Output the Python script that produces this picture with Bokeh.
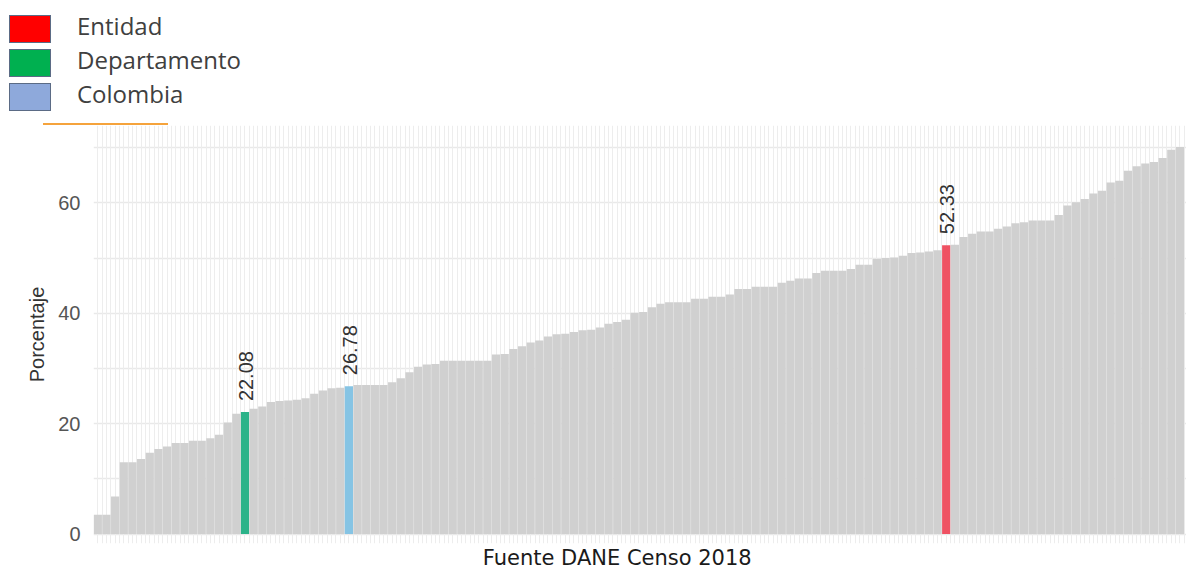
import math
from bokeh.plotting import figure
from bokeh.models import (Range1d, FixedTicker, ColumnDataSource, Grid, Div,
                          LinearAxis)
from bokeh.layouts import column
from bokeh.core.properties import value
from bokeh.embed import file_html
from bokeh.resources import INLINE

# ---------------- data ----------------
valores = [
    3.5, 3.5, 6.8, 13.0, 13.0, 13.6, 14.7, 15.4, 15.85, 16.5,
    16.5, 16.9, 16.9, 17.35, 18.0, 20.2, 21.8, 22.08, 22.7, 23.1,
    23.9, 24.1, 24.2, 24.3, 24.6, 25.4, 26.0, 26.4, 26.5, 26.78,
    27.0, 27.0, 27.0, 27.0, 27.5, 28.2, 29.3, 30.3, 30.7, 30.8,
    31.4, 31.4, 31.4, 31.4, 31.4, 31.4, 32.5, 32.6, 33.5, 34.0,
    34.7, 35.05, 35.8, 36.2, 36.3, 36.6, 36.9, 37.0, 37.4, 38.1,
    38.4, 38.8, 40.1, 40.2, 41.1, 41.7, 42.0, 42.0, 42.0, 42.6,
    42.6, 43.0, 43.0, 43.4, 44.4, 44.4, 44.8, 44.8, 44.8, 45.5,
    45.9, 46.3, 46.3, 47.3, 47.7, 47.7, 47.7, 48.0, 48.8, 48.8,
    49.8, 50.0, 50.1, 50.4, 50.9, 51.0, 51.2, 51.4, 52.33, 52.4,
    53.8, 54.4, 54.8, 54.8, 55.3, 55.7, 56.3, 56.5, 56.8, 56.8,
    56.8, 57.8, 59.5, 60.1, 60.7, 61.7, 62.2, 63.7, 64.0, 65.8,
    66.6, 67.1, 67.4, 68.1, 69.6, 70.1,
]
posiciones = list(range(1, len(valores) + 1))

# highlighted bars (position in ranking)
resaltado_pos = [99, 18, 30]
resaltado_color = ["#EF5263", "#2BB389", "#86C4E4"]

leyenda_etiquetas = ["Entidad", "Departamento", "Colombia"]
leyenda_colores = ["#FF0000", "#00B050", "#8EA9DB"]

color_base = "#D0D0D0"
ticks_y = [0, 20, 40, 60]
grid_y = [0, 10, 20, 30, 40, 50, 60, 70]
fuente = "Fuente DANE Censo 2018"
fuente_pos = 61          # x position (in bar units) where the source note is centred
titulo_y = "Porcentaje"

# ---------------- sizes ----------------
W = 1186
HEAD_H = 125
FRAME_H = 418
BOTTOM = 572 - HEAD_H - FRAME_H
LEFT = 93
P = 8.657            # px per bar
PX_Y = 5.52          # px per percentage point
frame_w = W - LEFT
x_start = 0.5
x_end = x_start + frame_w / P

# ---------------- header: legend ----------------
rows = []
for i, (etq, c) in enumerate(zip(leyenda_etiquetas, leyenda_colores)):
    t = 15 + i * 34
    rows.append(
        f'<div style="position:absolute;left:9px;top:{t}px;width:42px;height:28px;'
        f'background:{c};border:1px solid #5B6B85;box-sizing:border-box;"></div>'
        f'<div style="position:absolute;left:77px;top:{t - 5}px;height:32px;line-height:32px;'
        f'font-family:\'Open Sans\';font-size:24px;color:#404040;white-space:nowrap;">{etq}</div>'
    )
rows.append('<div style="position:absolute;left:43px;top:123px;width:125px;height:2px;'
            'background:#F5A33C;"></div>')
header = Div(text='<div style="position:relative;width:%dpx;height:%dpx;">%s</div>'
             % (W, HEAD_H, "".join(rows)), width=W, height=HEAD_H, margin=0)

# ---------------- main chart ----------------
p = figure(width=W, height=FRAME_H + BOTTOM,
           x_range=Range1d(x_start, x_end),
           y_range=Range1d(-1.72, -1.72 + FRAME_H / PX_Y),
           output_backend="svg", toolbar_location=None,
           x_axis_type=None,
           min_border_left=LEFT, min_border_right=0,
           min_border_top=0, min_border_bottom=BOTTOM, margin=0)
p.outline_line_color = None

# grids
p.ygrid.ticker = FixedTicker(ticks=grid_y)
p.ygrid.grid_line_color = "#E9E9E9"
p.ygrid.grid_line_width = 1.3
xg = Grid(dimension=0,
          ticker=FixedTicker(ticks=[k * 0.5 for k in range(1, 2 * len(valores) + 3)]),
          grid_line_color="#EDEDED", grid_line_width=1)
p.add_layout(xg)

# y axis
ya = p.yaxis[0]
ya.ticker = FixedTicker(ticks=ticks_y)
ya.axis_line_color = None
ya.major_tick_line_color = None
ya.minor_tick_line_color = None
ya.major_tick_out = 0
ya.major_tick_in = 0
ya.minor_tick_out = 0
ya.major_label_standoff = 13
ya.major_label_text_font = "Liberation Sans"
ya.major_label_text_font_size = "20px"
ya.major_label_text_color = "#555555"
ya.axis_label = titulo_y
ya.axis_label_text_font = "Liberation Sans"
ya.axis_label_text_font_size = "20px"
ya.axis_label_text_font_style = "normal"
ya.axis_label_text_color = "#333333"
ya.axis_label_standoff = 7

# x axis: no ticks; a single label carrying the source note
xa = LinearAxis(ticker=FixedTicker(ticks=[fuente_pos]),
                major_label_overrides={fuente_pos: fuente},
                axis_line_color=None, major_tick_line_color=None,
                minor_tick_line_color=None, major_tick_out=0, major_tick_in=0,
                minor_tick_out=0, minor_tick_in=0, major_label_standoff=2,
                major_label_text_font="DejaVu Sans",
                major_label_text_font_size="21px",
                major_label_text_color="#1A1A1A")
p.add_layout(xa, "below")

# bars
colores = [color_base] * len(valores)
for pos, c in zip(resaltado_pos, resaltado_color):
    colores[pos - 1] = c
src = ColumnDataSource(dict(x=posiciones, top=valores, color=colores))
p.vbar(x="x", top="top", width=0.95, fill_color="color", line_color=None, source=src)

# value labels on highlighted bars
lbl = ColumnDataSource(dict(
    x=resaltado_pos,
    y=[valores[k - 1] for k in resaltado_pos],
    t=["%.2f" % valores[k - 1] for k in resaltado_pos],
))
p.text(x="x", y="y", text="t", source=lbl, angle=math.pi / 2,
       text_align="left", text_baseline="middle", y_offset=-11, x_offset=1,
       text_font=value("Liberation Sans"), text_font_size="20px",
       text_color="#333333")

layout = column(header, p, spacing=0)
open("out.html", "w").write(file_html(layout, INLINE))
